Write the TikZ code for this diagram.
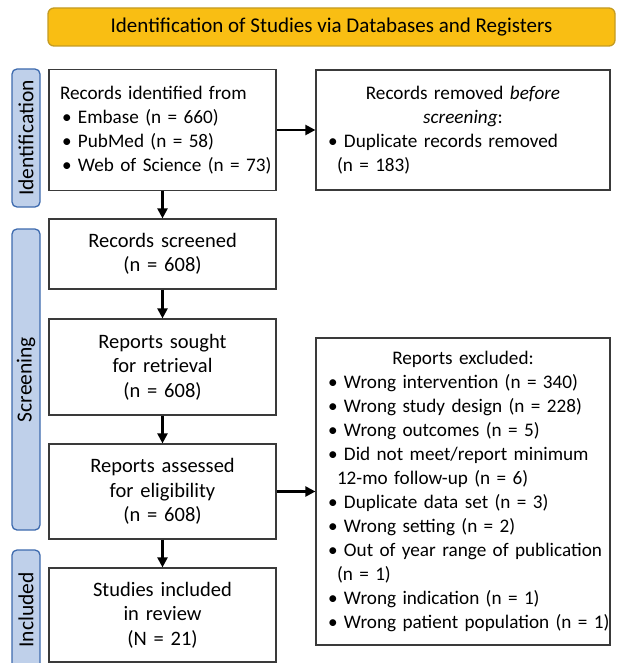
\documentclass[tikz,border=0pt]{standalone}
\usepackage{fontspec}
\setmainfont{Carlito}
\usetikzlibrary{graphs}
\usetikzlibrary{arrows.meta}
\definecolor{bannergold}{HTML}{F9BE13}
\definecolor{bannerrim}{HTML}{C49B22}
\definecolor{phasefill}{HTML}{BFD0EA}
\definecolor{phaserim}{HTML}{3D6AAE}
\definecolor{boxrim}{HTML}{3A3A3A}
\newcommand{\itm}[1]{\mbox{\textbullet\ #1}}
\newcommand{\hang}[1]{\mbox{\hspace*{9pt}#1}}
\tikzset{
  box/.style= {draw=boxrim, line width=1.2pt, fill=white, inner ysep=0pt},
  stage/.style= {box, inner xsep=11pt, text width=205pt, align=center, font=\fontsize{20.5}{24.5}\selectfont},
  side/.style= {box, inner xsep=12pt, text width=270pt},
  phase/.style= {draw=phaserim, fill=phasefill, line width=1.3pt, rounded corners=5pt,
                 minimum height=28pt, inner sep=0pt, rotate=90, font=\fontsize{21.5}{24}\selectfont},
  banner/.style= {draw=bannerrim, fill=bannergold, line width=1.3pt, rounded corners=6pt,
                  minimum width=567pt, minimum height=38pt, font=\fontsize{21}{24}\selectfont},
}

\begin{document}
\begin{tikzpicture}[x=1pt, y=1pt, >={Triangle[length=10pt, width=10pt]},
    every node/.style={font=\fontsize{19.2}{24}\selectfont},
    every edge/.append style={line width=2.2pt}]
  \useasboundingbox (0,0) rectangle (617,-663);

  \node [banner] (head) at (331.5,-27) {Identification of Studies via Databases and Registers};

  \node [phase, minimum width=138pt] (idbar) at (26,-138) {Identification};
  \node [phase, minimum width=301pt] (scrbar) at (26,-379.5) {Screening};
  \node [phase, minimum width=120pt] (incbar) at (26,-610) {Included};

  \node [stage, align=left, minimum height=121pt, font=\fontsize{19.2}{24}\selectfont] (src) at (162.5,-130)
    {Records identified from\\ \hspace*{2pt}\itm{Embase (n = 660)}\\ \hspace*{2pt}\itm{PubMed (n = 58)}\\
     \hspace*{2pt}\itm{Web of Science (n = 73)}};
  \node [side, minimum height=120pt] (dup) at (463,-130)
    {\centering Records removed \textit{before}\\ \textit{screening}:\par
     \raggedright \itm{Duplicate records removed}\\ \hang{(n = 183)}\par};
  \node [stage, minimum height=70pt] (screened) at (162.5,-254) {Records screened\\ (n = 608)};
  \node [stage, minimum height=96pt] (sought) at (162.5,-367) {Reports sought\\ for retrieval\\ (n = 608)};
  \node [stage, minimum height=95pt] (assessed) at (162.5,-491.5) {Reports assessed\\ for eligibility\\ (n = 608)};
  \node [stage, minimum height=94pt] (incl) at (162.5,-615) {Studies included\\ in review\\ (N = 21)};
  \node [side, minimum height=307pt] (excl) at (463,-491.5)
    {\centering Reports excluded:\par
     \raggedright
     \itm{Wrong intervention (n = 340)}\\
     \itm{Wrong study design (n = 228)}\\
     \itm{Wrong outcomes (n = 5)}\\
     \itm{Did not meet/report minimum}\\ \hang{12-mo follow-up (n = 6)}\\
     \itm{Duplicate data set (n = 3)}\\
     \itm{Wrong setting (n = 2)}\\
     \itm{Out of year range of publication}\\ \hang{(n = 1)}\\
     \itm{Wrong indication (n = 1)}\\
     \itm{Wrong patient population (n = 1)}\par};

  \graph {
    (src) -> (screened) -> (sought) -> (assessed) -> (incl) ;
    (src) -> (dup) ;
    (assessed) -> (excl) ;
  } ;
\end{tikzpicture}
\end{document}
